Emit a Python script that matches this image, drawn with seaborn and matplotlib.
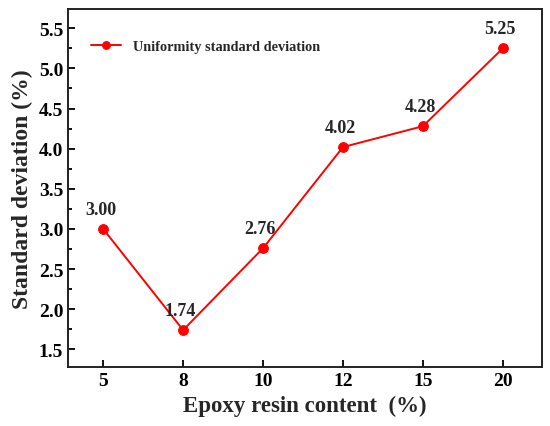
import matplotlib
matplotlib.use("Agg")

import matplotlib.pyplot as plt
import pandas as pd
import seaborn as sns
from matplotlib.ticker import MultipleLocator

# --- DATA ---
epoxy_content = ["5", "8", "10", "12", "15", "20"]
std_dev = [3.00, 1.74, 2.76, 4.02, 4.28, 5.25]

df = pd.DataFrame({"Epoxy": epoxy_content, "Std": std_dev})

sns.set_style("ticks")
plt.rcParams["font.family"] = ["Liberation Serif", "DejaVu Serif"]
plt.rcParams["font.weight"] = "bold"

fig = plt.figure(figsize=(5.5, 4.27), dpi=100)
ax = fig.add_axes([68 / 550, (427 - 368) / 427, (542 - 68) / 550, (368 - 10) / 427])

sns.lineplot(data=df, x="Epoxy", y="Std", color="red", marker="o",
             markersize=7, markeredgecolor="red", linewidth=1.4,
             label="Uniformity standard deviation", ax=ax)

# value labels above each point
for i, v in enumerate(std_dev):
    ax.annotate(f"{v:.2f}", (i, v), xytext=(-2, 8), textcoords="offset points",
                ha="center", va="bottom", fontsize=13, fontweight="bold")

ax.set_xlim(-0.44, 5.49)
ax.set_ylim(1.28, 5.74)
ax.yaxis.set_major_locator(MultipleLocator(0.5))
ax.yaxis.set_minor_locator(MultipleLocator(0.25))
ax.yaxis.set_major_formatter(matplotlib.ticker.FormatStrFormatter("%.1f"))

ax.tick_params(axis="both", which="both", direction="in", top=False, right=False,
               labelsize=14, width=1.3, colors="black")
ax.tick_params(axis="both", which="major", length=5)
ax.tick_params(axis="y", which="minor", length=3)
for lab in ax.get_xticklabels() + ax.get_yticklabels():
    lab.set_fontweight("bold")

for s in ax.spines.values():
    s.set_linewidth(1.4)
    s.set_color("#222222")

ax.set_xlabel("Epoxy resin content  (%)", fontsize=16.5, fontweight="bold", labelpad=4)
ax.set_ylabel("Standard deviation (%)", fontsize=17, fontweight="bold", labelpad=4)

leg = ax.legend(loc="upper left", frameon=False, prop={"size": 10.3, "weight": "bold"},
                handlelength=2.1, borderaxespad=0.0, bbox_to_anchor=(0.037, 0.93),
                markerscale=0.8)

plt.savefig("out.png", dpi=100)
